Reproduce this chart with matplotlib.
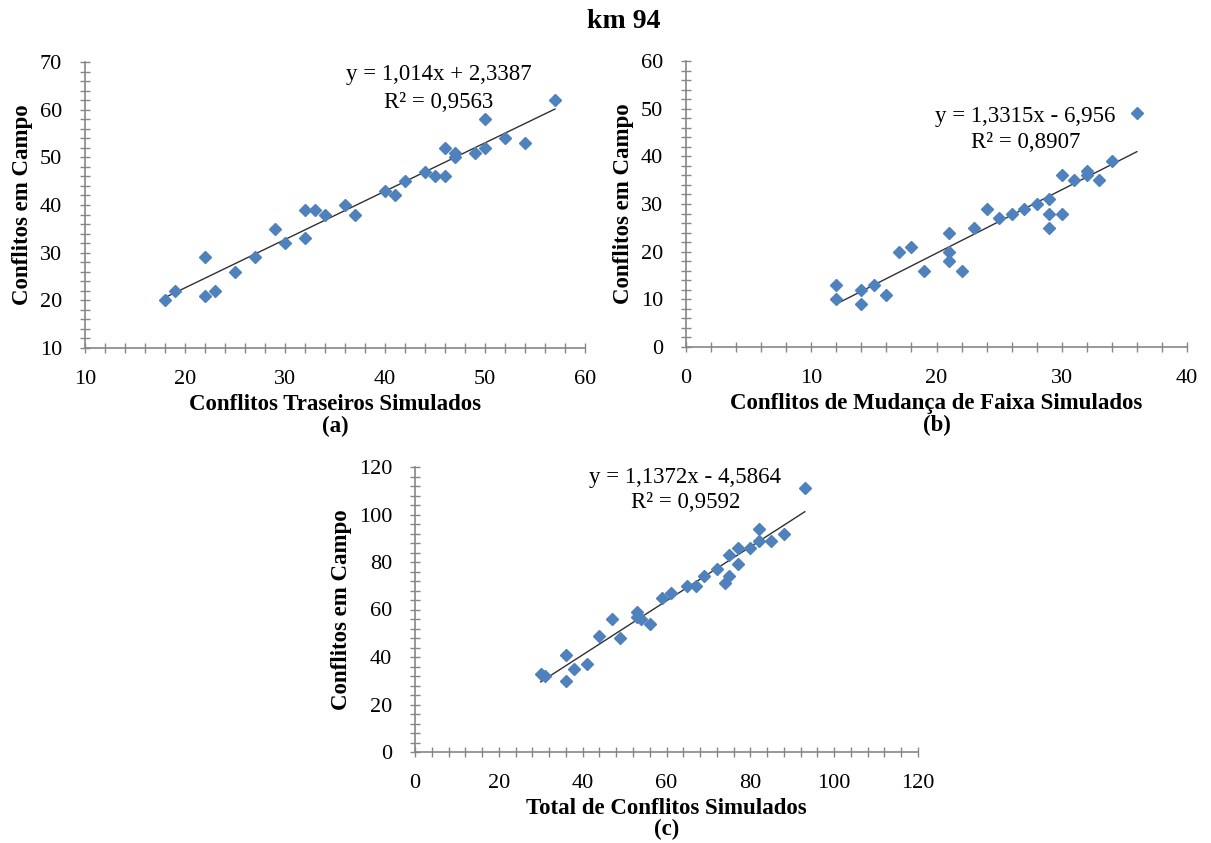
import numpy as np
import matplotlib.pyplot as plt
from matplotlib.ticker import MultipleLocator

plt.rcParams['font.family'] = ['Liberation Serif', 'DejaVu Serif']

# (a) rear-end conflicts
xa = [18, 19, 22, 22, 23, 25, 27, 29, 30, 32, 32, 33, 34, 36, 37,
      40, 41, 42, 44, 45, 46, 46, 47, 47, 49, 50, 50, 52, 54, 57]
ya = [20, 22, 29, 21, 22, 26, 29, 35, 32, 39, 33, 39, 38, 40, 38,
      43, 42, 45, 47, 46, 46, 52, 51, 50, 51, 58, 52, 54, 53, 62]
eq_a = ('y = 1,014x + 2,3387', 'R² = 0,9563')
coef_a = (1.014, 2.3387)

# (b) lane change conflicts
xb = [12, 12, 14, 14, 15, 16, 17, 18, 19, 21, 21, 21, 22, 23, 24,
      25, 26, 27, 28, 29, 29, 29, 30, 30, 31, 32, 32, 33, 34, 36]
yb = [13, 10, 12, 9, 13, 11, 20, 21, 16, 24, 20, 18, 16, 25, 29,
      27, 28, 29, 30, 31, 28, 25, 36, 28, 35, 37, 36, 35, 39, 49]
eq_b = ('y = 1,3315x - 6,956', 'R² = 0,8907')
coef_b = (1.3315, -6.956)

# (c) total conflicts
xc = [30, 31, 36, 36, 38, 41, 44, 47, 49, 53, 53, 54, 56, 59, 61,
      65, 67, 69, 72, 74, 75, 75, 77, 77, 80, 82, 82, 85, 88, 93]
yc = [33, 32, 41, 30, 35, 37, 49, 56, 48, 59, 57, 56, 54, 65, 67,
      70, 70, 74, 77, 71, 74, 83, 79, 86, 86, 89, 94, 89, 92, 111]
eq_c = ('y = 1,1372x - 4,5864', 'R² = 0,9592')
coef_c = (1.1372, -4.5864)

W, H = 1211, 843
fig = plt.figure(figsize=(W / 100, H / 100), dpi=100)

blue = '#4F81BD'
gray = '#868686'


def panel(rect, x, y, coef, eq, eqpos, xlim, ylim, xmaj, xmin, ymaj, ymin,
          xlabel, tag):
    l, t, r, b = rect
    ax = fig.add_axes([l / W, 1 - b / H, (r - l) / W, (b - t) / H])
    ax.plot(x, y, 'D', color=blue, ms=6.5, mec=blue, zorder=3)
    xs = np.array([min(x), max(x)])
    ax.plot(xs, coef[0] * xs + coef[1], color='#303030', lw=1.0, zorder=2)
    ax.set_xlim(*xlim)
    ax.set_ylim(*ylim)
    ax.xaxis.set_major_locator(MultipleLocator(xmaj))
    ax.xaxis.set_minor_locator(MultipleLocator(xmin))
    ax.yaxis.set_major_locator(MultipleLocator(ymaj))
    ax.yaxis.set_minor_locator(MultipleLocator(ymin))
    for s in ['top', 'right']:
        ax.spines[s].set_visible(False)
    for s in ['left', 'bottom']:
        ax.spines[s].set_color(gray)
        ax.spines[s].set_linewidth(1.2)
    ax.tick_params(which='both', direction='inout', length=7, width=1,
                   color=gray, labelsize=16)
    ax.tick_params(axis='x', pad=12)
    ax.tick_params(axis='y', pad=13)
    ax.set_xlabel(xlabel, fontsize=16.5, fontweight='bold', labelpad=4)
    ax.set_ylabel('Conflitos em Campo', fontsize=16.5, fontweight='bold',
                  labelpad=5)
    ax.text(0.5, -0.273, tag, transform=ax.transAxes, ha='center',
            va='center', fontsize=16.5, fontweight='bold')
    (x1, y1), (x2, y2) = eqpos
    ax.text(x1, y1, eq[0], ha='center', va='center', fontsize=16.5)
    ax.text(x2, y2, eq[1], ha='center', va='center', fontsize=16.5)
    return ax


panel((85, 62, 585, 348), xa, ya, coef_a, eq_a, ((45.4, 67.3), (45.4, 61.6)),
      (10, 60), (10, 70), 10, 2, 10, 2,
      'Conflitos Traseiros Simulados', '(a)')
panel((686, 61, 1187, 347), xb, yb, coef_b, eq_b, ((27.1, 48.4), (27.1, 42.8)),
      (0, 40), (0, 60), 10, 2, 10, 2,
      'Conflitos de Mudança de Faixa Simulados', '(b)')
panel((415, 467, 918, 752), xc, yc, coef_c, eq_c, ((64.4, 115.4), (64.6, 104.9)),
      (0, 120), (0, 120), 20, 4, 20, 4,
      'Total de Conflitos Simulados', '(c)')

fig.text(624 / W, 1 - 22 / H, 'km 94', ha='center', va='center',
         fontsize=20, fontweight='bold')

fig.savefig('out.png', dpi=100, facecolor='white')
